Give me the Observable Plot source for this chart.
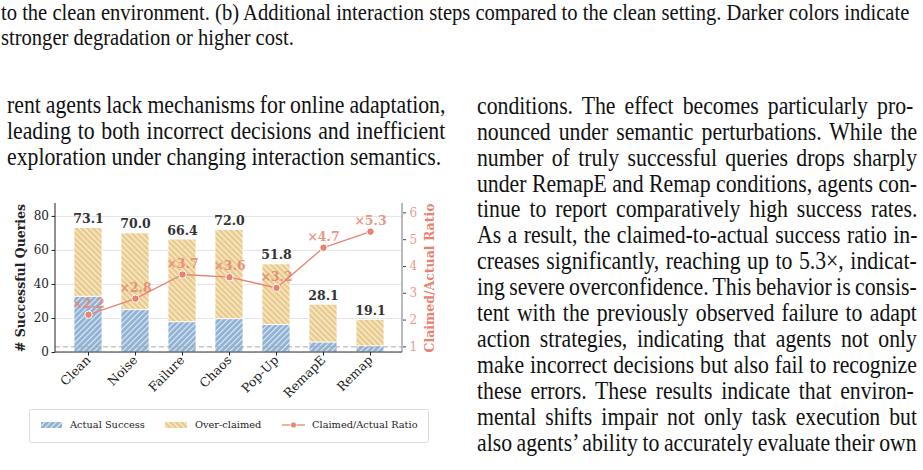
<!DOCTYPE html>
<html><head><meta charset="utf-8">
<script src="https://cdn.jsdelivr.net/npm/d3@7"></script>
<script src="https://cdn.jsdelivr.net/npm/@observablehq/plot@0.6"></script>
<style>
html,body{margin:0;padding:0;background:#fff;}
#page{position:relative;width:923px;height:470px;overflow:hidden;background:#fff;}
.ln{position:absolute;white-space:nowrap;font-family:"Liberation Serif","Times New Roman",serif;color:#111;line-height:1;transform-origin:0 0;}
#chart{position:absolute;left:0;top:190px;}
#legend{position:absolute;left:29px;top:409px;}
</style></head><body><div id="page"><div id="chart"></div><div id="legend"></div></div>
<script>
// ---------- data ----------
const conditions = ["Clean", "Noise", "Failure", "Chaos", "Pop-Up", "RemapE", "Remap"];
const claimedTotal = [73.1, 70.0, 66.4, 72.0, 51.8, 28.1, 19.1];
const actualSuccess = [32.8, 24.9, 17.8, 19.6, 16.1, 5.9, 3.6];
const ratioValues = [2.2, 2.8, 3.7, 3.6, 3.2, 4.7, 5.3];
const leftTicks = [0, 20, 40, 60, 80];
const rightTicks = [1, 2, 3, 4, 5, 6];
const legendLabels = ["Actual Success", "Over-claimed", "Claimed/Actual Ratio"];

const captionLines = [
  "to the clean environment. (b) Additional interaction steps compared to the clean setting. Darker colors indicate",
  "stronger degradation or higher cost."
];
const leftLines = [
  "rent agents lack mechanisms for online adaptation,",
  "leading to both incorrect decisions and inefficient",
  "exploration under changing interaction semantics."
];
const rightLines = [
  "conditions.  The effect becomes particularly pro-",
  "nounced under semantic perturbations. While the",
  "number of truly successful queries drops sharply",
  "under RemapE and Remap conditions, agents con-",
  "tinue to report comparatively high success rates.",
  "As a result, the claimed-to-actual success ratio in-",
  "creases significantly, reaching up to 5.3\u00d7, indicat-",
  "ing severe overconfidence. This behavior is consis-",
  "tent with the previously observed failure to adapt",
  "action strategies, indicating that agents not only",
  "make incorrect decisions but also fail to recognize",
  "these errors.  These results indicate that environ-",
  "mental shifts impair not only task execution but",
  "also agents\u2019 ability to accurately evaluate their own"
];

// ---------- page text ----------
const page = document.getElementById("page");
function makeSpan(text, size) {
  const s = document.createElement("div");
  s.className = "ln";
  s.style.fontSize = size + "px";
  s.textContent = text;
  page.appendChild(s);
  return s;
}
function placeLine(text, {x, cy, size, scale, width, justify}) {
  const s = makeSpan(text, size);
  s.style.left = x + "px";
  s.style.top = (cy - 0.608 * size) + "px";
  if (justify) {
    const w = s.offsetWidth;
    const spaces = (text.match(/ /g) || []).length;
    if (spaces > 0) s.style.wordSpacing = ((width / scale - w) / spaces) + "px";
  }
  s.style.transform = `scaleX(${scale})`;
}
function naturalWidth(text, size) {
  const s = makeSpan(text, size);
  const w = s.offsetWidth;
  s.remove();
  return w;
}
const BODY = 25;
const bodyScale = 434 / naturalWidth(leftLines[2], BODY);
leftLines.forEach((t, i) => placeLine(t, {x: 7, cy: 106.7 + i * 26.3, size: BODY, scale: bodyScale, width: 438, justify: i < 2}));
rightLines.forEach((t, i) => placeLine(t, {x: 477, cy: 108 + i * 25.9, size: BODY, scale: bodyScale, width: 440, justify: true}));
const CAP = 24;
const capScale = 908 / naturalWidth(captionLines[0], CAP);
captionLines.forEach((t, i) => placeLine(t, {x: 1, cy: 15 + i * 25, size: CAP, scale: capScale, width: 908, justify: false}));

// ---------- chart ----------
const blueFill = "#8fb1d4", goldFill = "#e9cb8c", salmon = "#e8836f", salmonLight = "#ea9d8b";
const R0 = 0.79, R1 = 6.35, YMAX = 87.6;
const toY = r => (r - R0) / (R1 - R0) * YMAX;
const fromY = y => R0 + y / YMAX * (R1 - R0);
const rows = conditions.map((c, i) => ({c, total: claimedTotal[i], actual: actualSuccess[i], ratio: ratioValues[i]}));

function addPattern(defs, id, color, angle, size) {
  const p = defs.append("pattern").attr("id", id).attr("patternUnits", "userSpaceOnUse")
    .attr("width", size).attr("height", size).attr("patternTransform", `rotate(${angle})`);
  p.append("rect").attr("width", size).attr("height", size).attr("fill", color);
  p.append("line").attr("x1", 0.6).attr("y1", 0).attr("x2", 0.6).attr("y2", size)
    .attr("stroke", "white").attr("stroke-width", 1.1).attr("stroke-opacity", 0.75);
}
const defsMark = () => {
  const d = d3.create("svg:defs");
  addPattern(d, "hatchBlue", blueFill, 45, 4);
  addPattern(d, "hatchGold", goldFill, -45, 4);
  return d.node();
};
const spines = (index, scales, values, dims) => {
  const {width, height, marginLeft, marginRight, marginTop, marginBottom} = dims;
  const g = d3.create("svg:g");
  const yb = height - marginBottom, xr = width - marginRight;
  g.append("line").attr("x1", xr).attr("x2", xr).attr("y1", marginTop).attr("y2", yb).attr("stroke", "#aaa").attr("stroke-width", 1.6);
  g.append("line").attr("x1", marginLeft).attr("x2", marginLeft).attr("y1", marginTop).attr("y2", yb).attr("stroke", "#222").attr("stroke-width", 1);
  g.append("line").attr("x1", marginLeft).attr("x2", xr).attr("y1", yb).attr("y2", yb).attr("stroke", "#333").attr("stroke-width", 1.2);
  return g.node();
};

const chart = Plot.plot({
  width: 450, height: 218,
  marginTop: 13, marginBottom: 56, marginLeft: 55, marginRight: 48,
  style: {fontFamily: "'DejaVu Serif', serif", fontSize: "12px", background: "transparent", overflow: "visible", color: "#222"},
  x: {type: "band", domain: conditions, paddingInner: 0.41, paddingOuter: 0.33, label: null},
  y: {domain: [0, YMAX], label: null},
  marks: [
    defsMark,
    Plot.gridY(leftTicks, {stroke: "#e4e4e4", strokeOpacity: 1}),
    Plot.barY(rows, {x: "c", y1: 0, y2: "actual", fill: "url(#hatchBlue)", stroke: "white", strokeWidth: 0.8}),
    Plot.barY(rows, {x: "c", y1: "actual", y2: "total", fill: "url(#hatchGold)", stroke: "white", strokeWidth: 0.8}),
    Plot.ruleY([toY(1)], {stroke: "#a8a8a8", strokeDasharray: "5,3", strokeWidth: 1}),
    Plot.line(rows, {x: "c", y: d => toY(d.ratio), stroke: salmon, strokeWidth: 1.3}),
    Plot.dot(rows, {x: "c", y: d => toY(d.ratio), r: 3.7, fill: salmon, stroke: "white", strokeWidth: 1}),
    Plot.text(rows, {x: "c", y: d => toY(d.ratio), text: d => "\u00d7" + d.ratio.toFixed(1), dy: -11, fill: salmon, fillOpacity: 0.85, fontWeight: "bold", fontSize: 12.5}),
    Plot.text(rows, {x: "c", y: "total", text: d => d.total.toFixed(1), dy: -9, fill: "#333", fontWeight: "bold", fontSize: 12.5}),
    Plot.axisY(leftTicks, {anchor: "left", tickSize: 3.5, tickPadding: 3, fontSize: 12, label: null}),
    Plot.axisY(rightTicks.map(toY), {anchor: "right", tickFormat: d => String(Math.round(fromY(d))), tickSize: 3, tickPadding: 4, fill: salmonLight, stroke: "#444", fontSize: 12, label: null}),
    Plot.axisX({tickRotate: -45, tickSize: 3.5, tickPadding: 2, fontSize: 12.5, label: null}),
    spines,
    Plot.text(["# Successful Queries"], {text: d => d, frameAnchor: "left", textAnchor: "middle", rotate: -90, dx: -35, fontWeight: "bold", fontSize: 12.5, fill: "#222"}),
    Plot.text(["Claimed/Actual Ratio"], {text: d => d, frameAnchor: "right", textAnchor: "middle", rotate: -90, dx: 27, fontWeight: "bold", fontSize: 12.5, fill: salmon})
  ]
});
document.getElementById("chart").appendChild(chart);

// ---------- legend ----------
const lg = d3.select("#legend").append("svg").attr("width", 401).attr("height", 35)
  .style("font-family", "'DejaVu Serif', serif").style("font-size", "9.8px");
const ld = lg.append("defs");
addPattern(ld, "lgBlue", blueFill, 45, 4);
addPattern(ld, "lgGold", goldFill, -45, 4);
lg.append("rect").attr("x", 0.5).attr("y", 0.5).attr("width", 399).attr("height", 33).attr("rx", 2)
  .attr("fill", "white").attr("stroke", "#dcdcdc");
const itemX = [12, 136, 253];
const textX = [41, 166, 283];
lg.append("rect").attr("x", itemX[0]).attr("y", 13).attr("width", 21).attr("height", 6).attr("fill", "url(#lgBlue)");
lg.append("rect").attr("x", itemX[1]).attr("y", 13).attr("width", 22).attr("height", 6).attr("fill", "url(#lgGold)");
lg.append("line").attr("x1", itemX[2]).attr("x2", itemX[2] + 23).attr("y1", 16).attr("y2", 16).attr("stroke", salmon).attr("stroke-width", 1.3);
lg.append("circle").attr("cx", itemX[2] + 11.5).attr("cy", 16).attr("r", 3).attr("fill", salmon).attr("stroke", "white").attr("stroke-width", 0.8);
legendLabels.forEach((t, i) => lg.append("text").attr("x", textX[i]).attr("y", 16).attr("dy", "0.35em").attr("fill", "#222").text(t));
</script></body></html>
